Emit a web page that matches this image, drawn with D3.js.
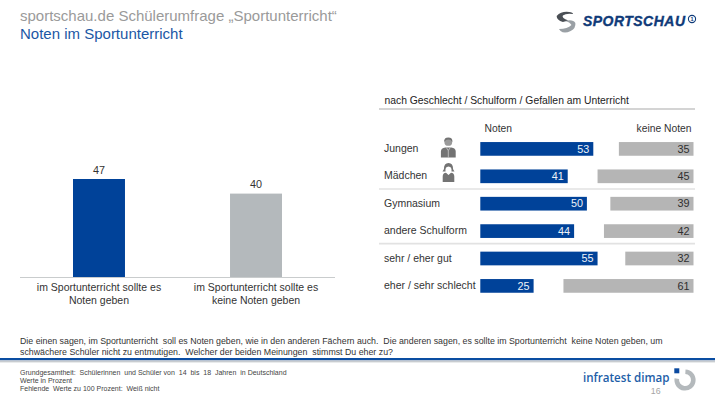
<!DOCTYPE html>
<html lang="de">
<head>
<meta charset="utf-8">
<title>Noten im Sportunterricht</title>
<script src="https://cdn.jsdelivr.net/npm/d3@7/dist/d3.min.js"></script>
<style>
  html, body { margin: 0; padding: 0; background: #fff; }
  svg { display: block; font-family: "Liberation Sans", Arial, sans-serif; }
</style>
</head>
<body>
<svg id="chart" width="715" height="403"></svg>
<script>
// Gesamtergebnis
const overallLabels = [
  ["im Sportunterricht sollte es", "Noten geben"],
  ["im Sportunterricht sollte es", "keine Noten geben"]
];
const overallValues = [47, 40];

// Aufschlüsselung nach Gruppen
const groups = ["Jungen", "Mädchen", "Gymnasium", "andere Schulform", "sehr / eher gut", "eher / sehr schlecht"];
const notenValues = [53, 41, 50, 44, 55, 25];
const keineNotenValues = [35, 45, 39, 42, 32, 61];

const titleLines = ["sportschau.de Schülerumfrage „Sportunterricht“", "Noten im Sportunterricht"];
const questionLines = [
  "Die einen sagen, im Sportunterricht  soll es Noten geben, wie in den anderen Fächern auch.  Die anderen sagen, es sollte im Sportunterricht  keine Noten geben, um",
  "schwächere Schüler nicht zu entmutigen.  Welcher der beiden Meinungen  stimmst Du eher zu?"
];
const footLines = [
  "Grundgesamtheit:  Schülerinnen  und Schüler von  14  bis  18  Jahren  in Deutschland",
  "Werte in Prozent",
  "Fehlende  Werte zu 100 Prozent:  Weiß nicht"
];

const BLUE = "#004299", GREY = "#b4b9bc", RIGHT_GREY = "#b5b5b5", INK = "#333333";
const svg = d3.select("#chart");

// Kopfzeile
svg.selectAll("text.title").data(titleLines).join("text")
  .attr("class", "title")
  .attr("x", 20).attr("y", (d, i) => 21.3 + i * 17.8)
  .attr("font-size", 15)
  .attr("fill", (d, i) => i ? "#1b57a5" : "#9a9a9a")
  .text(d => d);

// Säulendiagramm links
const yLeft = d3.scaleLinear().domain([0, 47]).range([277, 179]);
const xLeft = d3.scaleBand().domain(d3.range(overallValues.length)).range([73, 282]).paddingInner(0.669);

svg.append("line").attr("x1", 20).attr("x2", 335).attr("y1", 277.5).attr("y2", 277.5)
  .attr("stroke", "#c9cccd");

svg.selectAll("rect.overall").data(overallValues).join("rect")
  .attr("class", "overall")
  .attr("x", (d, i) => xLeft(i)).attr("width", xLeft.bandwidth())
  .attr("y", d => yLeft(d)).attr("height", d => yLeft(0) - yLeft(d))
  .attr("fill", (d, i) => i ? GREY : BLUE);

svg.selectAll("text.overallValue").data(overallValues).join("text")
  .attr("class", "overallValue")
  .attr("x", (d, i) => xLeft(i) + xLeft.bandwidth() / 2).attr("y", d => yLeft(d) - 5.5)
  .attr("text-anchor", "middle").attr("font-size", 10.8).attr("fill", INK)
  .text(d => d);

overallLabels.forEach((lines, i) => {
  svg.selectAll(null).data(lines).join("text")
    .attr("x", xLeft(i) + xLeft.bandwidth() / 2).attr("y", (d, j) => 291 + j * 13)
    .attr("text-anchor", "middle").attr("font-size", 10.5).attr("fill", INK)
    .text(d => d);
});

// Rechter Block: Überschrift und Trennlinien
svg.append("text").attr("x", 384.5).attr("y", 104).attr("font-size", 10.35).attr("fill", "#222")
  .text("nach Geschlecht / Schulform / Gefallen am Unterricht");
svg.append("line").attr("x1", 379).attr("x2", 695).attr("y1", 109).attr("y2", 109)
  .attr("stroke", "#a9a9a9").attr("stroke-width", 1.2);

const yRow = d3.scaleBand().domain(groups).range([135.2, 299.6]).paddingInner(0.5).paddingOuter(0.25);
const xNoten = d3.scaleLinear().domain([0, 100]).range([480.3, 693.5]);
const widthOf = v => xNoten(v) - xNoten(0);

[189, 243.6].forEach(y => {
  svg.append("line").attr("x1", 379).attr("x2", 695).attr("y1", y).attr("y2", y)
    .attr("stroke", "#e2e2e2").attr("stroke-width", 1.6);
});

svg.append("text").attr("x", 484.5).attr("y", 132).attr("font-size", 10.3).attr("fill", INK).text("Noten");
svg.append("text").attr("x", 691.5).attr("y", 132).attr("text-anchor", "end").attr("font-size", 10.3).attr("fill", INK).text("keine Noten");

svg.selectAll("text.group").data(groups).join("text")
  .attr("class", "group")
  .attr("x", 384).attr("y", g => yRow(g) + yRow.bandwidth() / 2 + 3)
  .attr("font-size", 10.5).attr("fill", INK)
  .text(d => d);

svg.selectAll("rect.noten").data(notenValues).join("rect")
  .attr("class", "noten")
  .attr("x", xNoten(0)).attr("width", d => widthOf(d))
  .attr("y", (d, i) => yRow(groups[i])).attr("height", yRow.bandwidth())
  .attr("fill", BLUE);

svg.selectAll("text.notenValue").data(notenValues).join("text")
  .attr("class", "notenValue")
  .attr("x", d => xNoten(d) - 4).attr("y", (d, i) => yRow(groups[i]) + yRow.bandwidth() / 2 + 3.7)
  .attr("text-anchor", "end").attr("font-size", 10.8).attr("fill", "#eef2f8")
  .text(d => d);

svg.selectAll("rect.keine").data(keineNotenValues).join("rect")
  .attr("class", "keine")
  .attr("x", d => xNoten(100) - widthOf(d)).attr("width", d => widthOf(d))
  .attr("y", (d, i) => yRow(groups[i])).attr("height", yRow.bandwidth())
  .attr("fill", RIGHT_GREY);

svg.selectAll("text.keineValue").data(keineNotenValues).join("text")
  .attr("class", "keineValue")
  .attr("x", xNoten(100) - 4).attr("y", (d, i) => yRow(groups[i]) + yRow.bandwidth() / 2 + 3.7)
  .attr("text-anchor", "end").attr("font-size", 10.8).attr("fill", "#2f2f2f")
  .text(d => d);

// Piktogramme Junge / Mädchen
const icon = svg.append("g").attr("fill", "#737373");
const boy = icon.append("g").attr("transform", "translate(448.3,147.5)");
boy.append("path").attr("d", "M-7.4 10 L-7.4 4 Q-7.4 0.6 -3 0 L3 0 Q7.4 0.6 7.4 4 L7.4 10 Z");
boy.append("path").attr("d", "M-2 0 L0 3 L2 0 M0 3 L0 10").attr("fill", "none").attr("stroke", "#d8d8d8").attr("stroke-width", 0.7);
boy.append("circle").attr("cy", -5.6).attr("r", 3.9).attr("fill", "#9a9a9a");
boy.append("path").attr("d", "M-4.1 -5.6 Q-4.4 -10 0 -10 Q4.4 -10 4.1 -5.6 Q2.5 -8 0 -8 Q-2.5 -8 -4.1 -5.6 Z");
const girl = icon.append("g").attr("transform", "translate(448.5,173)");
girl.append("path").attr("d", "M-5.8 9 L-5.8 3.5 Q-5.8 0 -2.5 -0.3 L0 2 L2.5 -0.3 Q5.8 0 5.8 3.5 L5.8 9 Z");
girl.append("path").attr("d", "M-4.6 -3.8 Q-4.6 -10 0 -10 Q4.6 -10 4.6 -3.8 L6 -1.4 L3 -1.6 Q3.6 -6.4 0 -6.6 Q-3.6 -6.4 -3 -1.6 L-6 -1.4 Z");

// Fragetext
svg.selectAll("text.question").data(questionLines).join("text")
  .attr("class", "question")
  .attr("x", 20).attr("y", (d, i) => 344 + i * 11.3)
  .attr("font-size", 8.8).attr("fill", "#333")
  .style("white-space", "pre")
  .text(d => d);

// Fußleiste
svg.append("rect").attr("x", 0).attr("y", 358).attr("width", 715).attr("height", 2.4).attr("fill", "#0a4da2");
svg.append("rect").attr("x", 0).attr("y", 360.4).attr("width", 715).attr("height", 2).attr("fill", "#c8ccd0");

svg.selectAll("text.foot").data(footLines).join("text")
  .attr("class", "foot")
  .attr("x", 20).attr("y", (d, i) => 375 + i * 8)
  .attr("font-size", 7).attr("fill", "#444")
  .style("white-space", "pre")
  .text(d => d);

// Wortmarke Sportschau
const ss = svg.append("g");
const swoosh = ss.append("g").attr("transform", "translate(566,22) scale(0.78,1)");
swoosh.append("path").attr("d", "M-12 -6 Q-6 -11 4 -10 Q9 -9.5 9 -8 Q0 -9 -4 -6.5 Q-6 -4 3 -1.5 L-4 0 Q-12 -2 -12 -6 Z").attr("fill", "#4a4f55");
swoosh.append("path").attr("d", "M-9 7 Q2 7 7 3 Q5 0 -1 -1 Q9 -3 12 1 Q13 6 6 9 Q-2 12 -7 9 Z").attr("fill", "#9aa0a5");
ss.append("text").attr("x", 583).attr("y", 26).attr("font-size", 14)
  .attr("font-weight", 700).attr("font-style", "italic").attr("textLength", 102).attr("lengthAdjust", "spacing")
  .attr("stroke", "#0f3a78").attr("stroke-width", 0.35)
  .attr("fill", "#0f3a78").text("SPORTSCHAU");
ss.append("circle").attr("cx", 692).attr("cy", 19).attr("r", 3.6).attr("fill", "none").attr("stroke", "#0f3a78").attr("stroke-width", 1.1);
ss.append("text").attr("x", 692).attr("y", 21).attr("text-anchor", "middle").attr("font-size", 5.5).attr("font-weight", 700).attr("fill", "#0f3a78").text("1");

// Wortmarke infratest dimap
svg.append("text").attr("x", 583).attr("y", 382).attr("font-family", "'Open Sans', sans-serif").attr("font-size", 11.6)
  .attr("font-weight", 600).attr("fill", "#1d5ea8").text("infratest dimap");
svg.append("rect").attr("x", 674.3).attr("y", 368.3).attr("width", 5).attr("height", 5).attr("fill", "#0b4aa0");
const ring = d3.arc().innerRadius(6).outerRadius(10.6);
svg.append("path").attr("transform", "translate(685,380)")
  .attr("d", ring({ startAngle: 0.05, endAngle: Math.PI * 1.55 })).attr("fill", "#b4b9bc");
svg.append("text").attr("x", 655.7).attr("y", 394.3).attr("text-anchor", "middle").attr("font-size", 8.8).attr("fill", "#a5a5a5").text("16");
</script>
</body>
</html>
